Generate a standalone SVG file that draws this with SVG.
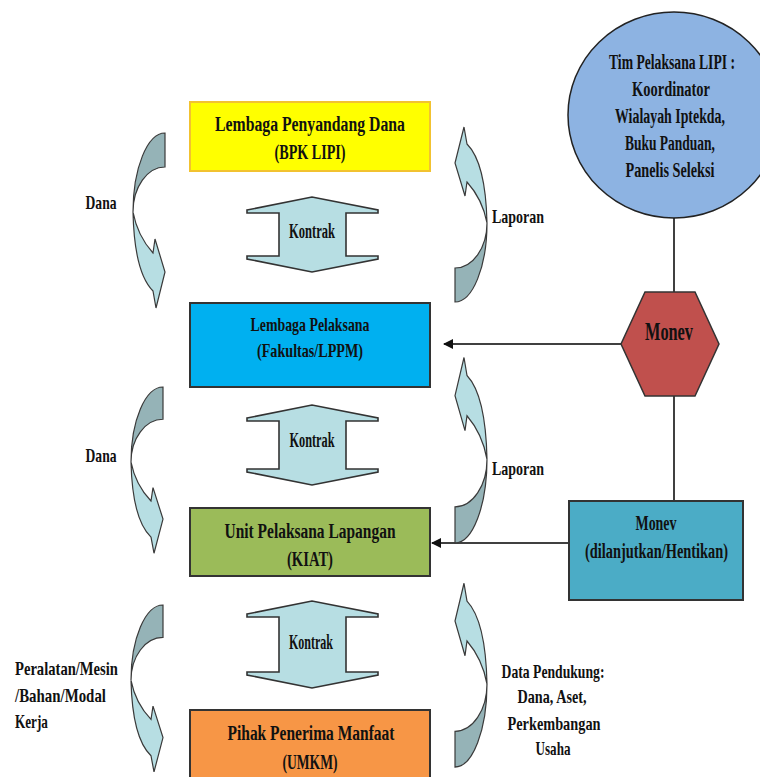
<svg xmlns="http://www.w3.org/2000/svg" width="760" height="777" viewBox="0 0 760 777">
<style>
.t{font-family:"Liberation Serif","DejaVu Serif",serif;font-weight:bold;fill:#111;text-anchor:middle}
.l{text-anchor:start}
.box{stroke:#333;stroke-width:2}
.dk{fill:#95B3B7;stroke:#3a3a3a;stroke-width:1.2}
.lt{fill:#B7DEE3;stroke:#3a3a3a;stroke-width:1.2}
.kon{fill:#B7DEE3;stroke:#333;stroke-width:1.6;stroke-linejoin:miter}
.ln{stroke:#404040;stroke-width:2;fill:none}
</style>
<defs>
<marker id="ah" viewBox="0 0 10 10" refX="9" refY="5" markerWidth="5" markerHeight="5" orient="auto" markerUnits="strokeWidth">
<path d="M0,0 L10,5 L0,10 Z" fill="#111"/>
</marker>
<g id="curv">
<path class="dk" d="M33,0 A32,79 0 0 0 1,79 A32,45 0 0 1 33,34 Z"/>
<path class="lt" d="M1,79 C4,95 12,110 21,120 L23,106 L33,139 L24,175 L21,158 C11,148 2,125 1,79 Z"/>
</g>
</defs>
<rect width="760" height="777" fill="#fff"/>

<g id="connectors">
<line class="ln" x1="674" y1="218" x2="674" y2="292"/>
<line class="ln" x1="674" y1="396" x2="674" y2="501"/>
<line class="ln" x1="621" y1="344" x2="444" y2="344" marker-end="url(#ah)"/>
<line class="ln" x1="569" y1="543" x2="432" y2="543" marker-end="url(#ah)"/>
</g>

<g id="flow-arrows">
<use href="#curv" transform="translate(132,133)"/>
<use href="#curv" transform="translate(488,302) rotate(180)"/>
<use href="#curv" transform="translate(130,387) scale(1,0.95)"/>
<use href="#curv" transform="translate(488,543) rotate(180) scale(1,1.06)"/>
<use href="#curv" transform="translate(130,605) scale(1,0.954)"/>
<use href="#curv" transform="translate(488,767) rotate(180) scale(1,1.05)"/>
</g>

<g id="kontrak1">
<polygon class="kon" points="247,210 312,197 378,210 378,213 346,213 346,256 378,256 378,259 312,272 247,259 247,256 279,256 279,213 247,213"/>
<text class="t" transform="scale(0.7,1)" x="445.71" y="238" font-size="20" textLength="65.7" lengthAdjust="spacingAndGlyphs">Kontrak</text>
</g>
<g id="kontrak2">
<polygon class="kon" points="247,418 312,405 378,418 378,421 346,421 346,469 378,469 378,472 312,485 247,472 247,469 279,469 279,421 247,421"/>
<text class="t" transform="scale(0.7,1)" x="445.71" y="447" font-size="20" textLength="64.3" lengthAdjust="spacingAndGlyphs">Kontrak</text>
</g>
<g id="kontrak3">
<polygon class="kon" points="247,614 312,601 378,614 378,617 346,617 346,672 378,672 378,675 312,688 247,675 247,672 279,672 279,617 247,617"/>
<text class="t" transform="scale(0.7,1)" x="444.29" y="649" font-size="20" textLength="62.9" lengthAdjust="spacingAndGlyphs">Kontrak</text>
</g>

<g id="penyandang">
<rect x="190" y="102" width="240" height="69" fill="#FFFF00" stroke="#F2C230" stroke-width="2"/>
<text class="t" transform="scale(0.7,1)" x="442.86" y="131" font-size="20" textLength="271.4" lengthAdjust="spacingAndGlyphs">Lembaga Penyandang Dana</text>
<text class="t" transform="scale(0.7,1)" x="442.86" y="159" font-size="20" textLength="101.4" lengthAdjust="spacingAndGlyphs">(BPK LIPI)</text>
</g>

<g id="pelaksana">
<rect class="box" x="190" y="303" width="240" height="84" fill="#00B0F0"/>
<text class="t" transform="scale(0.7,1)" x="442.86" y="331" font-size="19" textLength="170" lengthAdjust="spacingAndGlyphs">Lembaga Pelaksana</text>
<text class="t" transform="scale(0.7,1)" x="442.86" y="357" font-size="19" textLength="151.4" lengthAdjust="spacingAndGlyphs">(Fakultas/LPPM)</text>
</g>

<g id="unit">
<rect class="box" x="190" y="508" width="240" height="68" fill="#9BBB59"/>
<text class="t" transform="scale(0.7,1)" x="442.86" y="538" font-size="20" textLength="244.3" lengthAdjust="spacingAndGlyphs">Unit Pelaksana Lapangan</text>
<text class="t" transform="scale(0.7,1)" x="442.86" y="566" font-size="20" textLength="65.7" lengthAdjust="spacingAndGlyphs">(KIAT)</text>
</g>

<g id="penerima">
<rect class="box" x="190" y="710" width="240" height="72" fill="#F79646"/>
<text class="t" transform="scale(0.7,1)" x="444.29" y="740" font-size="20" textLength="238.6" lengthAdjust="spacingAndGlyphs">Pihak Penerima Manfaat</text>
<text class="t" transform="scale(0.7,1)" x="442.86" y="769" font-size="20" textLength="78.6" lengthAdjust="spacingAndGlyphs">(UMKM)</text>
</g>

<g id="tim">
<ellipse cx="674" cy="115" rx="106" ry="103" fill="#8DB3E2" stroke="#222" stroke-width="1.5"/>
<text class="t" transform="scale(0.7,1)" x="960" y="69" font-size="21" textLength="180" lengthAdjust="spacingAndGlyphs">Tim Pelaksana LIPI :</text>
<text class="t" transform="scale(0.7,1)" x="958.57" y="96" font-size="21" textLength="111.4" lengthAdjust="spacingAndGlyphs">Koordinator</text>
<text class="t" transform="scale(0.7,1)" x="957.14" y="123" font-size="21" textLength="157.1" lengthAdjust="spacingAndGlyphs">Wialayah Iptekda,</text>
<text class="t" transform="scale(0.7,1)" x="957.14" y="150" font-size="21" textLength="128.6" lengthAdjust="spacingAndGlyphs">Buku Panduan,</text>
<text class="t" transform="scale(0.7,1)" x="957.14" y="177" font-size="21" textLength="127.1" lengthAdjust="spacingAndGlyphs">Panelis Seleksi</text>
</g>

<g id="monev-hex">
<polygon points="645,292 695,292 719,344 695,396 645,396 621,344" fill="#C0504D" stroke="#333" stroke-width="1.5"/>
<text class="t" transform="scale(0.7,1)" x="955.71" y="340" font-size="25" textLength="68.6" lengthAdjust="spacingAndGlyphs">Monev</text>
</g>

<g id="monev-box">
<rect class="box" x="569" y="501" width="174" height="99" fill="#4BACC6"/>
<text class="t" transform="scale(0.7,1)" x="937.14" y="530" font-size="20" textLength="58.6" lengthAdjust="spacingAndGlyphs">Monev</text>
<text class="t" transform="scale(0.7,1)" x="937.86" y="558" font-size="20" textLength="204.3" lengthAdjust="spacingAndGlyphs">(dilanjutkan/Hentikan)</text>
</g>

<g id="labels">
<text class="t" transform="scale(0.7,1)" x="144.29" y="209" font-size="19" textLength="44.3" lengthAdjust="spacingAndGlyphs">Dana</text>
<text class="t" transform="scale(0.7,1)" x="740" y="223" font-size="19" textLength="74.3" lengthAdjust="spacingAndGlyphs">Laporan</text>
<text class="t" transform="scale(0.7,1)" x="144.29" y="462" font-size="19" textLength="44.3" lengthAdjust="spacingAndGlyphs">Dana</text>
<text class="t" transform="scale(0.7,1)" x="740" y="475" font-size="19" textLength="74.3" lengthAdjust="spacingAndGlyphs">Laporan</text>
<text class="t l" transform="scale(0.7,1)" x="21.43" y="675" font-size="19" textLength="147.1" lengthAdjust="spacingAndGlyphs">Peralatan/Mesin</text>
<text class="t l" transform="scale(0.7,1)" x="21.43" y="702" font-size="19" textLength="130" lengthAdjust="spacingAndGlyphs">/Bahan/Modal</text>
<text class="t l" transform="scale(0.7,1)" x="21.43" y="728" font-size="19" textLength="47.1" lengthAdjust="spacingAndGlyphs">Kerja</text>
<text class="t" transform="scale(0.7,1)" x="790" y="678" font-size="19" textLength="147.1" lengthAdjust="spacingAndGlyphs">Data Pendukung:</text>
<text class="t" transform="scale(0.7,1)" x="788.57" y="703" font-size="19" textLength="98.6" lengthAdjust="spacingAndGlyphs">Dana, Aset,</text>
<text class="t" transform="scale(0.7,1)" x="791.43" y="730" font-size="19" textLength="132.9" lengthAdjust="spacingAndGlyphs">Perkembangan</text>
<text class="t" transform="scale(0.7,1)" x="790" y="755" font-size="19" textLength="50" lengthAdjust="spacingAndGlyphs">Usaha</text>
</g>
</svg>
